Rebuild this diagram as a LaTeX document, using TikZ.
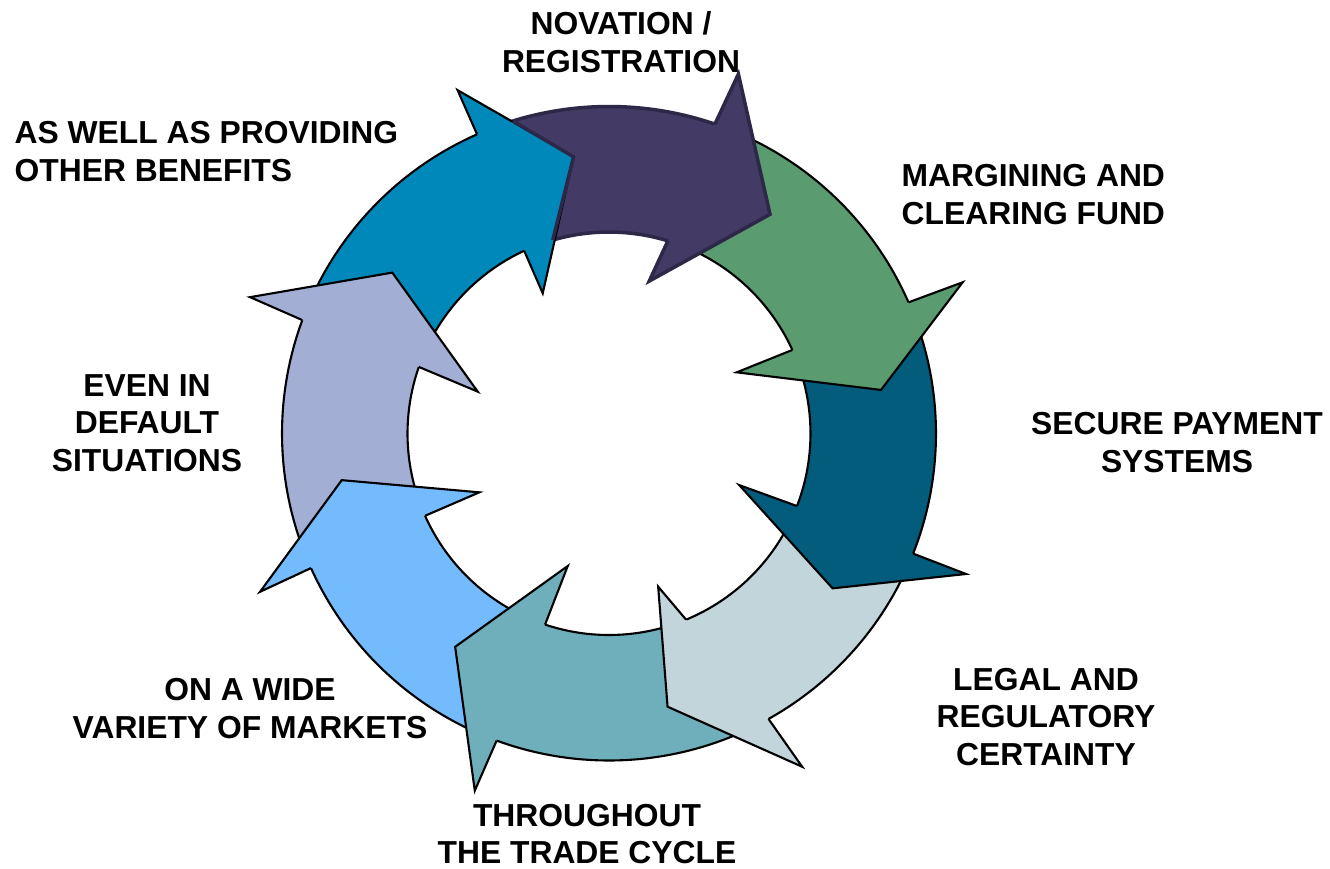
\documentclass[tikz,border=0pt]{standalone}
\usepackage{fontspec}
\setmainfont{Liberation Sans}
\definecolor{cNovation}{HTML}{433B66}
\definecolor{cNovationLine}{HTML}{2D2848}
\definecolor{cMargin}{HTML}{5A9B70}
\definecolor{cPayment}{HTML}{035C7C}
\definecolor{cLegal}{HTML}{C2D5DA}
\definecolor{cCycle}{HTML}{6FAFBB}
\definecolor{cMarkets}{HTML}{74BBFE}
\definecolor{cDefault}{HTML}{A3AED4}
\definecolor{cBenefits}{HTML}{0088BB}
\begin{document}
\begin{tikzpicture}
\tikzstyle{every node}=[font=\bfseries\fontsize{9.05pt}{10.7pt}\selectfont, inner sep=0pt]
\tikzstyle{piece}=[draw=black, line width=0.6pt, line join=miter]
\tikzstyle{novpiece}=[draw=cNovationLine, line width=1pt, line join=miter]
\useasboundingbox (0,0) rectangle (13.3,-8.68);

\begin{scope}[shift={(6.09,-4.335)}]
% bodies of the ring (tails and ends are hidden under the heads)
\draw[piece, fill=cMargin] (68.1:3.27) arc[start angle=68.1, end angle=20.65, radius=3.27] -- (21.5:2.015) arc[start angle=21.5, end angle=70, radius=2.015] -- cycle;
\draw[piece, fill=cPayment] (20.65:3.27) arc[start angle=20.65, end angle=-24.55, radius=3.27] -- (-24.1:2.015) arc[start angle=-24.1, end angle=21.5, radius=2.015] -- cycle;
\draw[piece, fill=cLegal] (-24.55:3.27) arc[start angle=-24.55, end angle=-63.8, radius=3.27] -- (-70.5:2.015) arc[start angle=-70.5, end angle=-24.1, radius=2.015] -- cycle;
\draw[piece, fill=cCycle] (-63.8:3.27) arc[start angle=-63.8, end angle=-113.1, radius=3.27] -- (-111.5:2.015) arc[start angle=-111.5, end angle=-70.5, radius=2.015] -- cycle;
\draw[piece, fill=cMarkets] (-113.1:3.27) arc[start angle=-113.1, end angle=-158.7, radius=3.27] -- (-158.9:2.015) arc[start angle=-158.9, end angle=-111.5, radius=2.015] -- cycle;
\draw[piece, fill=cDefault] (201.3:3.27) arc[start angle=201.3, end angle=156.7, radius=3.27] -- (157.7:2.015) arc[start angle=157.7, end angle=201.1, radius=2.015] -- cycle;
\draw[piece, fill=cBenefits] (156.7:3.27) arc[start angle=156.7, end angle=110.8, radius=3.27] -- (111.9:2.015) arc[start angle=111.9, end angle=157.7, radius=2.015] -- cycle;
\draw[novpiece, fill=cNovation] (110.8:3.27) arc[start angle=110.8, end angle=68.1, radius=3.27] -- (70:2.015) arc[start angle=70, end angle=111.9, radius=2.015] -- cycle;

% heads
\draw[novpiece, fill=cNovation] (71.1:3.27) -- (70.2:3.82) -- (53.7:2.72) -- (75.2:1.577) -- (73:2.015);
\draw[piece, fill=cMargin] (23.65:3.27) -- (23.15:3.846) -- (9.1:2.755) -- (25.6:1.416) -- (24.5:2.015);
\draw[piece, fill=cPayment] (-21.55:3.27) -- (-21.48:3.837) -- (-34.7:2.72) -- (-21.6:1.401) -- (-21.1:2.015);
\draw[piece, fill=cLegal] (-60.8:3.27) -- (-59.9:3.852) -- (-77.9:2.794) -- (-72.2:1.609) -- (-67.5:2.015);
\draw[piece, fill=cCycle] (-110.1:3.27) -- (-110.6:3.815) -- (-125.8:2.63) -- (-107.3:1.388) -- (-108.5:2.015);
\draw[piece, fill=cMarkets] (-155.7:3.27) -- (-155.6:3.832) -- (-170.1:2.713) -- (-155.6:1.424) -- (-155.9:2.015);
\draw[piece, fill=cDefault] (159.7:3.27) -- (159.2:3.84) -- (143.4:2.699) -- (162.3:1.378) -- (160.7:2.015);
\draw[piece, fill=cBenefits] (113.8:3.27) -- (113.8:3.753) -- (97.3:2.79) -- (115.3:1.551) -- (114.9:2.015);

% notch of the first piece
\draw[novpiece] (107.1:3.27) -- (97.3:2.79) -- (106.2:2.015);
\end{scope}

% labels
\node[align=center] (novation) at (6.21,-0.42) {NOVATION /\\REGISTRATION};
\node[align=left, anchor=west] (margining) at (9.01,-1.945) {MARGINING AND\\CLEARING FUND};
\node[align=center] (payment) at (11.77,-4.425) {SECURE PAYMENT\\SYSTEMS};
\node[align=center] (legal) at (10.46,-7.17) {LEGAL AND\\REGULATORY\\CERTAINTY};
\node[align=center] (cycle) at (5.87,-8.34) {THROUGHOUT\\THE TRADE CYCLE};
\node[align=center] (markets) at (2.5,-7.085) {ON A WIDE\\VARIETY OF MARKETS};
\node[align=center] (default) at (1.47,-4.23) {EVEN IN\\DEFAULT\\SITUATIONS};
\node[align=left, anchor=west] (benefits) at (0.14,-1.515) {AS WELL AS PROVIDING\\OTHER BENEFITS};
\end{tikzpicture}
\end{document}
